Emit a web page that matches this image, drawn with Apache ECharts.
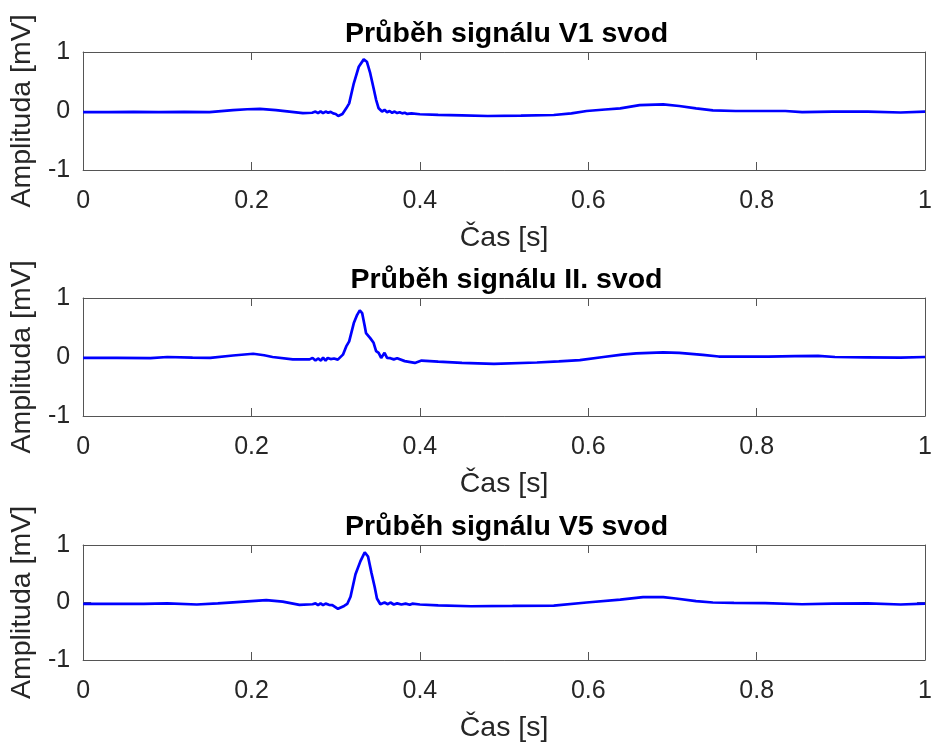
<!DOCTYPE html>
<html>
<head>
<meta charset="utf-8">
<script src="https://cdn.jsdelivr.net/npm/echarts@6/dist/echarts.min.js"></script>
<style>
    html, body { margin: 0; padding: 0; background: #fff; }
    #chart { width: 935px; height: 744px; }
</style>
</head>
<body>
<div id="chart"></div>
<script>
const chart = echarts.init(document.getElementById("chart"));

const titles = ["Průběh signálu V1 svod", "Průběh signálu II. svod", "Průběh signálu V5 svod"];
const xName = "Čas [s]";
const yName = "Amplituda [mV]";

// V1 lead
const timeV1 = [0, 0.03, 0.06, 0.09, 0.12, 0.15, 0.178, 0.195, 0.21, 0.229, 0.245, 0.261, 0.272, 0.276, 0.279,
    0.282, 0.285, 0.288, 0.291, 0.294, 0.297, 0.300, 0.303, 0.308, 0.3125, 0.316, 0.3215, 0.3274, 0.3333, 0.337,
    0.341, 0.345, 0.348, 0.351, 0.355, 0.358, 0.361, 0.364, 0.367, 0.370, 0.373, 0.376, 0.379, 0.382, 0.385,
    0.39, 0.40, 0.4217, 0.45, 0.4806, 0.52, 0.559, 0.58, 0.598, 0.62, 0.638, 0.661, 0.689, 0.708, 0.728, 0.748,
    0.775, 0.80, 0.834, 0.854, 0.89, 0.932, 0.971, 1.0];
const ampV1 = [-0.02, -0.02, -0.015, -0.02, -0.015, -0.02, 0.015, 0.03, 0.035, 0.015, -0.01, -0.035, -0.03, -0.01, -0.035,
    -0.005, -0.035, -0.01, -0.03, -0.015, -0.04, -0.05, -0.085, -0.05, 0.045, 0.13, 0.47, 0.75, 0.875, 0.835,
    0.64, 0.385, 0.19, 0.045, -0.01, 0.02, -0.02, 0.0, -0.03, -0.01, -0.035, -0.02, -0.04, -0.03, -0.05,
    -0.04, -0.055, -0.065, -0.075, -0.085, -0.08, -0.068, -0.04, 0.0, 0.025, 0.045, 0.10, 0.113, 0.085, 0.045, 0.012,
    0.0, 0.0, 0.0, -0.02, -0.01, -0.01, -0.025, -0.01];

// II lead
const timeII = [0, 0.04, 0.08, 0.1, 0.13, 0.151, 0.178, 0.202, 0.215, 0.225, 0.249, 0.269, 0.2725, 0.276, 0.279,
    0.2825, 0.285, 0.288, 0.2905, 0.294, 0.298, 0.3025, 0.3086, 0.3125, 0.316, 0.3215, 0.3255, 0.3286, 0.3314, 0.3345,
    0.336, 0.341, 0.345, 0.348, 0.351, 0.354, 0.358, 0.361, 0.365, 0.369, 0.373, 0.382, 0.394, 0.402, 0.4217,
    0.45, 0.488, 0.539, 0.565, 0.590, 0.618, 0.640, 0.657, 0.689, 0.708, 0.736, 0.755, 0.814, 0.845, 0.873,
    0.893, 0.93, 0.971, 1.0];
const ampII = [-0.015, -0.015, -0.02, 0.0, -0.01, -0.015, 0.025, 0.055, 0.03, 0.0, -0.04, -0.04, -0.015, -0.06, -0.025,
    -0.06, -0.01, -0.06, -0.015, -0.035, -0.025, -0.045, 0.04, 0.18, 0.265, 0.575, 0.715, 0.79, 0.745, 0.52,
    0.405, 0.32, 0.24, 0.10, 0.07, -0.015, 0.07, -0.015, -0.02, -0.04, -0.02, -0.07, -0.10, -0.06, -0.08,
    -0.1, -0.115, -0.093, -0.075, -0.053, 0.0, 0.04, 0.06, 0.08, 0.07, 0.035, 0.008, 0.008, 0.015, 0.02,
    0.0, -0.005, -0.01, 0.0];

// V5 lead
const timeV5 = [0, 0.072, 0.1, 0.135, 0.16, 0.178, 0.2175, 0.237, 0.257, 0.2725, 0.276, 0.279, 0.282, 0.285, 0.288,
    0.292, 0.296, 0.3027, 0.31, 0.3137, 0.3176, 0.3235, 0.3294, 0.3345, 0.3384, 0.3424, 0.3463, 0.349, 0.353, 0.358,
    0.362, 0.365, 0.369, 0.373, 0.378, 0.383, 0.388, 0.391, 0.40, 0.4217, 0.461, 0.51, 0.559, 0.598, 0.638,
    0.665, 0.689, 0.704, 0.728, 0.748, 0.773, 0.81, 0.854, 0.89, 0.932, 0.971, 1.0];
const ampV5 = [-0.025, -0.025, -0.015, -0.035, -0.015, 0.003, 0.042, 0.015, -0.042, -0.03, -0.015, -0.045, -0.015, -0.045, -0.02,
    -0.04, -0.045, -0.11, -0.06, -0.025, 0.10, 0.49, 0.72, 0.87, 0.80, 0.52, 0.27, 0.07, -0.03, 0.0,
    -0.03, 0.0, -0.035, -0.015, -0.035, -0.02, -0.04, -0.02, -0.035, -0.05, -0.065, -0.06, -0.053, 0.0, 0.05,
    0.093, 0.093, 0.07, 0.025, 0.0, -0.005, -0.01, -0.03, -0.02, -0.015, -0.035, -0.02];

const signals = [
    { t: timeV1, v: ampV1 },
    { t: timeII, v: ampII },
    { t: timeV5, v: ampV5 }
];

const FONT = "'Liberation Sans', Arial, Helvetica, sans-serif";
const AXIS_COLOR = "#262626";
const LINE_COLOR = "#555555";
const gridTops = [52, 298, 545];
const gridH = 118;
const gridLeft = 82;
const gridW = 849;

const grids = [];
const xAxes = [];
const yAxes = [];
const series = [];
const titleList = [];

signals.forEach((s, i) => {
    grids.push({ left: gridLeft, top: gridTops[i], width: gridW, height: gridH, containLabel: false });

    titleList.push({
        text: titles[i],
        left: gridLeft + gridW / 2,
        top: gridTops[i] - 32,
        textAlign: "center",
        padding: 0,
        textStyle: { fontFamily: FONT, fontSize: 28.5, fontWeight: "bold", color: "#000" }
    });

    const axisLine = { show: true, onZero: false, lineStyle: { color: LINE_COLOR, width: 1 } };
    const axisTick = { show: true, inside: true, length: 8, lineStyle: { color: LINE_COLOR, width: 1 } };

    xAxes.push({
        type: "value",
        gridIndex: i,
        position: "bottom",
        min: 0,
        max: 1,
        interval: 0.2,
        name: xName,
        nameLocation: "middle",
        nameGap: 54,
        nameTextStyle: { fontFamily: FONT, fontSize: 28.5, color: AXIS_COLOR },
        axisLine: axisLine,
        axisTick: axisTick,
        splitLine: { show: false },
        axisLabel: { fontFamily: FONT, fontSize: 25, color: AXIS_COLOR, margin: 19 }
    });
    xAxes.push({
        type: "value",
        gridIndex: i,
        position: "top",
        min: 0,
        max: 1,
        interval: 0.2,
        axisLine: axisLine,
        axisTick: axisTick,
        splitLine: { show: false },
        axisLabel: { show: false }
    });

    yAxes.push({
        type: "value",
        gridIndex: i,
        position: "left",
        min: -1,
        max: 1,
        interval: 1,
        name: yName,
        nameLocation: "middle",
        nameRotate: 90,
        nameGap: 46,
        nameTextStyle: { fontFamily: FONT, fontSize: 28.5, color: AXIS_COLOR },
        axisLine: axisLine,
        axisTick: axisTick,
        splitLine: { show: false },
        axisLabel: { fontFamily: FONT, fontSize: 25, color: AXIS_COLOR, margin: 13 }
    });
    yAxes.push({
        type: "value",
        gridIndex: i,
        position: "right",
        min: -1,
        max: 1,
        interval: 1,
        axisLine: axisLine,
        axisTick: axisTick,
        splitLine: { show: false },
        axisLabel: { show: false }
    });

    series.push({
        type: "line",
        xAxisIndex: i * 2,
        yAxisIndex: i * 2,
        showSymbol: false,
        symbol: "none",
        lineStyle: { color: "#0000ff", width: 2.7 },
        data: s.t.map((t, k) => [t, s.v[k]])
    });
});

chart.setOption({
    animation: false,
    backgroundColor: "#ffffff",
    title: titleList,
    grid: grids,
    xAxis: xAxes,
    yAxis: yAxes,
    series: series
});

window.addEventListener("resize", () => chart.resize());
</script>
</body>
</html>
